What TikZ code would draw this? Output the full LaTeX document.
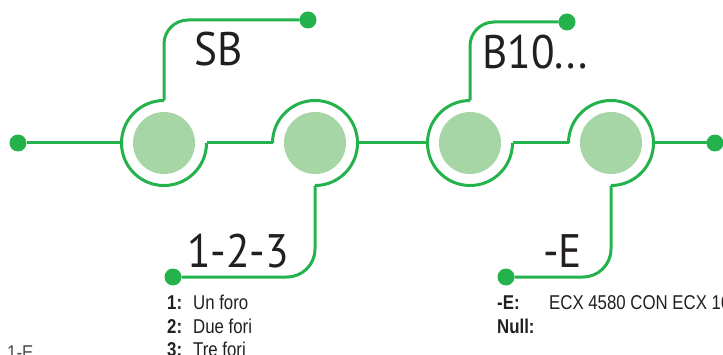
\documentclass[tikz,border=0pt]{standalone}
\usepackage{fontspec}
\setmainfont{PT Sans}
\newfontfamily\codefont[FakeStretch=0.92]{PT Sans}
\newfontfamily\condfont[FakeStretch=0.84]{Liberation Sans}
\definecolor{wiregreen}{RGB}{36,178,76}
\definecolor{holegreen}{RGB}{166,213,166}
\definecolor{inkblack}{RGB}{35,31,32}

\begin{document}
\begin{tikzpicture}[x=1pt,y=1pt,
    wire/.style={draw=wiregreen,line width=3pt},
    hole/.style={circle,fill=holegreen,minimum size=62pt,inner sep=0pt,outer sep=0pt},
    ring/.style={circle,minimum size=85pt,inner sep=0pt,outer sep=0pt},
    dot/.style={circle,fill=wiregreen,minimum size=17pt,inner sep=0pt,outer sep=0pt},
    code/.style={inner sep=0pt,anchor=base west,text=inkblack,font=\codefont\fontsize{47}{47}\selectfont},
    note/.style={inner sep=0pt,anchor=base west,text=inkblack,font=\condfont\fontsize{20}{20}\selectfont}]
  \useasboundingbox (0,0) rectangle (723,354);
  \clip (0,0) rectangle (723,354);
  % holes with their rings
  \foreach \n/\x in {1/164,2/315,3/470,4/611}{
    \node[hole] (h\n) at (\x,211) {};
    \node[ring] (r\n) at (\x,211) {};
  }
  % end points
  \node[dot] (d0) at (18,211) {};
  \node[dot] (d5) at (715,211) {};
  \node[dot] (sbend) at (308,334) {};
  \node[dot] (b10end) at (567,332) {};
  \node[dot] (holesend) at (173,77) {};
  \node[dot] (endsend) at (506,77) {};
  % rings
  \draw[wire] (r1.north) arc[start angle=90,end angle=360,radius=42.5pt];
  \draw[wire] (r2.west) arc[start angle=180,end angle=-90,radius=42.5pt];
  \draw[wire] (r3.north) arc[start angle=90,end angle=360,radius=42.5pt];
  \draw[wire] (r4.west) arc[start angle=180,end angle=-90,radius=42.5pt];
  % main line
  \draw[wire] (d0) -- (r1.west);
  \draw[wire] (r1.east) -- (r2.west);
  \draw[wire] (r2.east) -- (r3.west);
  \draw[wire] (r3.east) -- (r4.west);
  \draw[wire] (r4.east) -- (d5);
  % tails
  \draw[wire,rounded corners=24pt] (r1.north) |- (sbend);
  \draw[wire,rounded corners=24pt] (r3.north) |- (b10end);
  \draw[wire,rounded corners=28pt] (r2.south) |- (holesend);
  \draw[wire,rounded corners=28pt] (r4.south) |- (endsend);
  % codes
  \node[code] (sb) at (194,288) {SB};
  \node[code] (b10) at (482,285) {B10...};
  \node[code] (holes) at (187,87) {1-2-3};
  \node[code] (ends) at (543,87) {-E};
  % notes
  \node[note] (k1) at (167,45) {\textbf{1:}};
  \node[note] (v1) at (193,45) {Un foro};
  \node[note] (k2) at (167,21) {\textbf{2:}};
  \node[note] (v2) at (193,21) {Due fori};
  \node[note] (k3) at (167,-2) {\textbf{3:}};
  \node[note] (v3) at (193,-2) {Tre fori};
  \node[note] (ke) at (497,45) {\textbf{-E:}};
  \node[note] (ve) at (549,45) {ECX 4580 CON ECX 16};
  \node[note] (kn) at (497,21) {\textbf{Null:}};
  \node[note,text=black!70] (other) at (7,-5) {1-E};
\end{tikzpicture}
\end{document}
